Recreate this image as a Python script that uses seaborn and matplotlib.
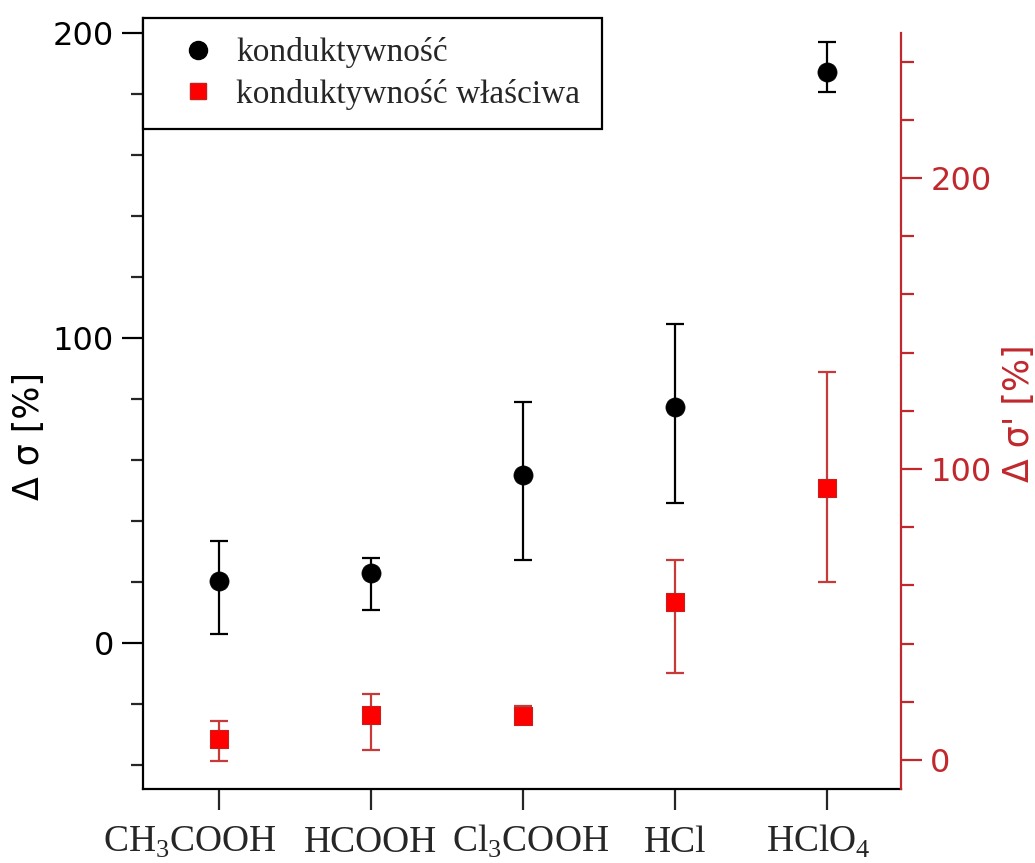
import numpy as np
import pandas as pd
import matplotlib
matplotlib.use("Agg")
import matplotlib.pyplot as plt
import matplotlib.transforms as mtransforms
from matplotlib.lines import Line2D
from matplotlib.ticker import MultipleLocator
import seaborn as sns

# Acids on the x axis
acids = ["CH3COOH", "HCOOH", "Cl3COOH", "HCl", "HClO4"]
acid_labels = [r"CH$_\mathrm{3}$COOH", "HCOOH", r"Cl$_\mathrm{3}$COOH", "HCl", r"HClO$_\mathrm{4}$"]

# Conductivity change (left axis), with lower/upper error bar ends
sigma = [20.4, 22.8, 55.1, 77.3, 187.1]
sigma_low = [3.0, 10.8, 27.2, 45.8, 180.8]
sigma_high = [33.5, 28.0, 78.9, 104.6, 197.0]

# Specific conductivity change (right axis), with lower/upper error bar ends
sigma_spec = [7.2, 15.5, 15.1, 54.2, 93.5]
sigma_spec_low = [-0.4, 3.4, 13.7, 29.9, 61.2]
sigma_spec_high = [13.4, 22.6, 18.6, 68.7, 133.3]

sns.set_style("ticks")
plt.rcParams["font.family"] = ["DejaVu Sans"]
plt.rcParams["mathtext.fontset"] = "custom"
plt.rcParams["mathtext.rm"] = "Liberation Serif"

RED_AXIS = "#c0282d"
RED_BAR = "#c83a3a"
LW = 1.6

df = pd.DataFrame({
    "pos": np.arange(len(acids)),
    "acid": acids,
    "sigma": sigma,
    "sigma_spec": sigma_spec,
})

fig = plt.figure(figsize=(10.35, 8.63), dpi=100)
ax = fig.add_axes([0.1382, 0.0857, 0.7323, 0.8934])
ax2 = ax.twinx()

# conductivity: error bars and circles
yerr = [np.subtract(sigma, sigma_low), np.subtract(sigma_high, sigma)]
ax.errorbar(df["pos"], df["sigma"], yerr=yerr, fmt="none", ecolor="black",
            elinewidth=LW, capsize=6.5, capthick=LW, zorder=2)
sns.scatterplot(data=df, x="pos", y="sigma", ax=ax, marker="o", s=190,
                color="black", edgecolor="black", linewidth=0.5, zorder=3, legend=False)

# specific conductivity: error bars and squares
yerr2 = [np.subtract(sigma_spec, sigma_spec_low), np.subtract(sigma_spec_high, sigma_spec)]
ax2.errorbar(df["pos"], df["sigma_spec"], yerr=yerr2, fmt="none", ecolor=RED_BAR,
             elinewidth=LW, capsize=6.5, capthick=LW, zorder=2)
sns.scatterplot(data=df, x="pos", y="sigma_spec", ax=ax2, marker="s", s=150,
                color="#ff0000", edgecolor="#c81e1e", linewidth=0.8, zorder=3, legend=False)

# axis limits
ax.set_xlim(-0.5, 4.49)
ax.set_ylim(-47.9, 204.9)
ax2.set_ylim(-10.0, 255.0)

# left axis
ax.yaxis.set_major_locator(MultipleLocator(100))
ax.yaxis.set_minor_locator(MultipleLocator(20))
ax.tick_params(axis="y", which="major", length=15, width=LW, direction="out",
               labelsize=23, pad=6, colors="black")
ax.tick_params(axis="y", which="minor", length=9, width=LW, direction="out")
ax.set_ylabel("Δ σ [%]", fontsize=25, color="black")
ax.yaxis.set_label_coords(-0.128, 0.458)

# categorical x axis with serif chemical formulas, sharing one baseline
ax.set_xticks(df["pos"])
ax.set_xticklabels(acid_labels, fontsize=27, fontfamily="Liberation Serif")
ax.tick_params(axis="x", length=15, width=LW, direction="out", pad=30)
ax.set_xlabel("")
label_shift_px = [-29, 0, 8, 0, -8]
for lbl, dx in zip(ax.get_xticklabels(), label_shift_px):
    lbl.set_verticalalignment("baseline")
    lbl.set_transform(lbl.get_transform() +
                      mtransforms.ScaledTranslation(dx / fig.dpi, 0, fig.dpi_scale_trans))

for side in ["top", "right"]:
    ax.spines[side].set_visible(False)
for side in ["left", "bottom"]:
    ax.spines[side].set_linewidth(LW)
    ax.spines[side].set_color("black")

# right axis
ax2.yaxis.set_major_locator(MultipleLocator(100))
ax2.yaxis.set_minor_locator(MultipleLocator(20))
ax2.tick_params(axis="y", which="major", length=15, width=LW, direction="out",
                labelsize=23, pad=6, colors=RED_AXIS)
ax2.tick_params(axis="y", which="minor", length=9, width=LW, direction="out",
                colors=RED_AXIS)
ax2.set_ylabel("Δ σ' [%]", fontsize=25, color=RED_AXIS)
ax2.yaxis.set_label_coords(1.133, 0.488)
for side in ["top", "left", "bottom"]:
    ax2.spines[side].set_visible(False)
ax2.spines["right"].set_color(RED_AXIS)
ax2.spines["right"].set_linewidth(LW)
ax2.spines["right"].set_bounds(-10.0, 250.0)

# legend
handles = [
    Line2D([], [], linestyle="none", marker="o", markersize=13,
           markerfacecolor="black", markeredgecolor="black"),
    Line2D([], [], linestyle="none", marker="s", markersize=12,
           markerfacecolor="#ff0000", markeredgecolor="#c81e1e"),
]
leg = ax2.legend(handles, ["konduktywność", "konduktywność właściwa"],
                 loc="upper left", bbox_to_anchor=(0.0, 1.0, 0.6055, 0.0),
                 mode="expand", borderaxespad=0.0, frameon=True, fancybox=False,
                 prop={"family": "Liberation Serif", "size": 24},
                 borderpad=0.58, labelspacing=0.31, handlelength=2.16,
                 handletextpad=0.05)
leg.get_frame().set_edgecolor("black")
leg.get_frame().set_linewidth(LW)
leg.get_frame().set_alpha(1)

fig.savefig("out.png", dpi=100)
